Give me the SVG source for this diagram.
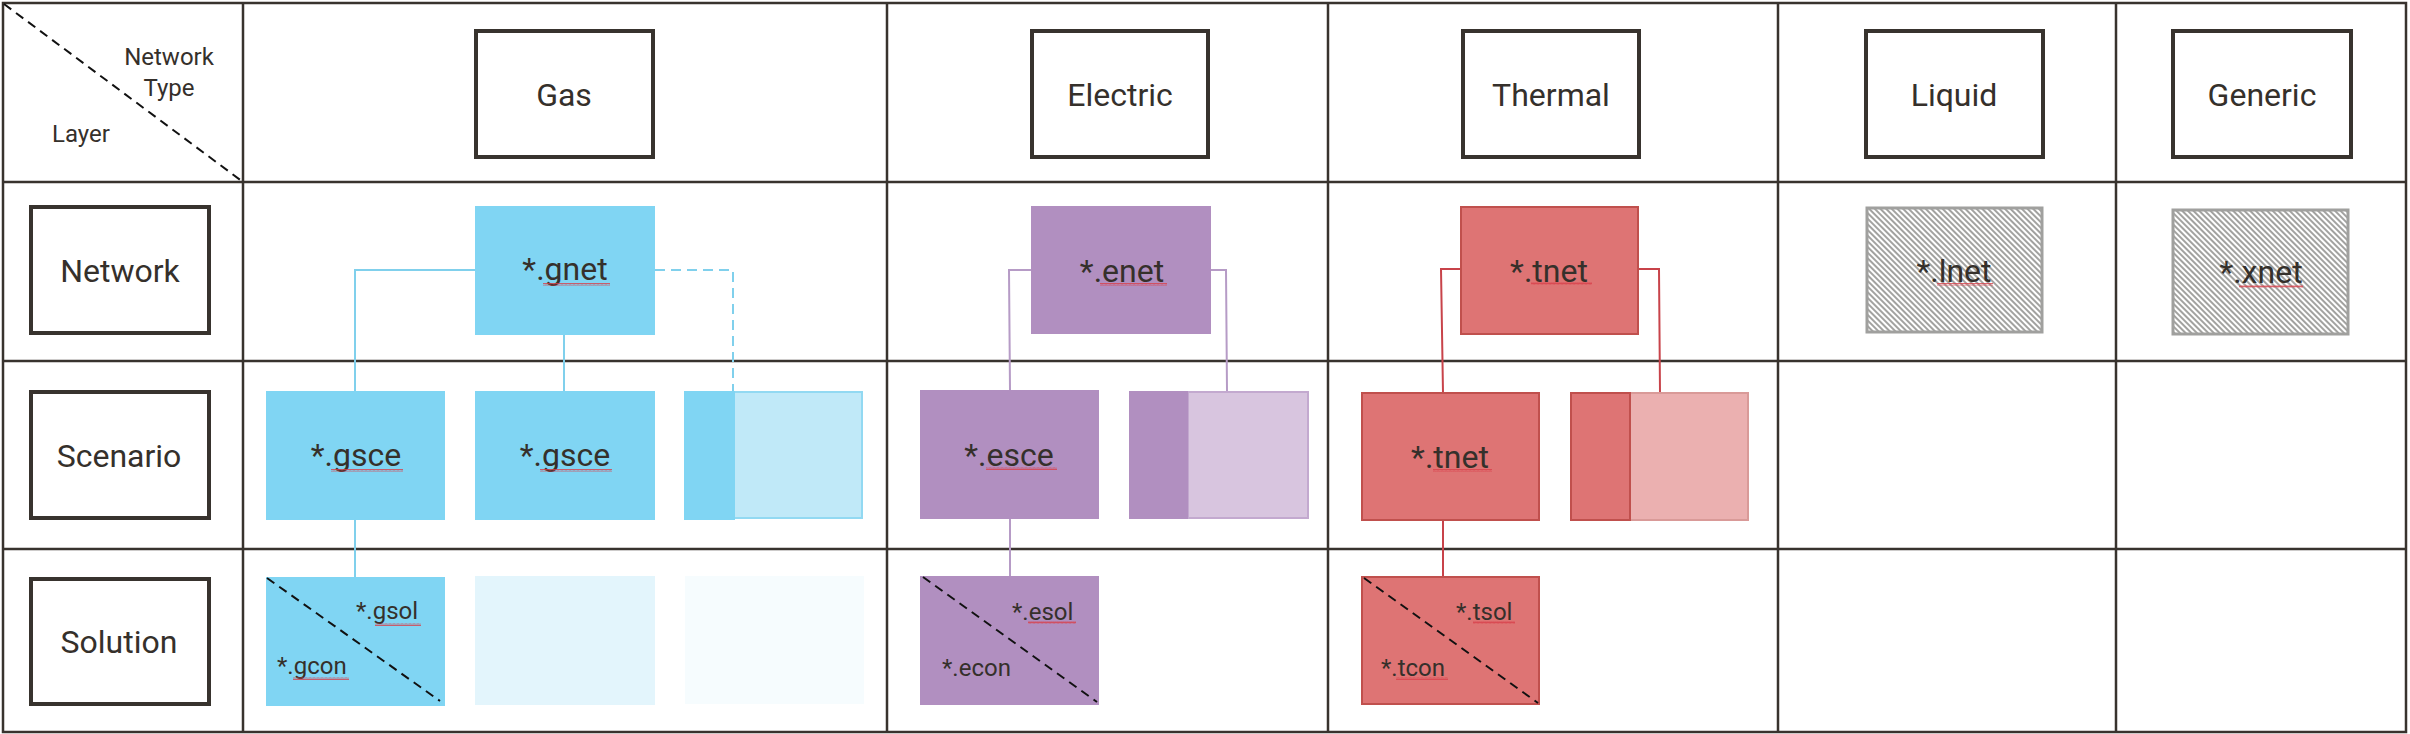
<svg xmlns="http://www.w3.org/2000/svg" width="2410" height="734" viewBox="0 0 2410 734">
<style>
text{font-family:Roboto,"Liberation Sans",sans-serif;fill:#35302b}
.t32{font-size:32px;text-anchor:middle}
.t24{font-size:24px}
.grid{stroke:#38332e;stroke-width:2.5;fill:none}
.hdr{fill:#fff;stroke:#38332e;stroke-width:4}
.g{fill:#80d5f3}
.gl{fill:#c0e9f8;stroke:#92d9f2;stroke-width:2}
.e{fill:#b18fc0}
.el{fill:#d8c5df;stroke:#c3a9cf;stroke-width:2}
.t{fill:#de7474;stroke:#c0504d;stroke-width:2}
.tl{fill:#ebb0b0;stroke:#d99a98;stroke-width:2}
.hat{fill:url(#hatch);stroke:#a0a09e;stroke-width:3}
.diag{stroke:#111;stroke-width:2;stroke-dasharray:9 6;fill:none}
.cg{stroke:#80d0ec;stroke-width:2;fill:none}
.ce{stroke:#b69bc6;stroke-width:2;fill:none}
.ct{stroke:#c8434a;stroke-width:2;fill:none}
.sq{fill:url(#squig)}
</style>
<defs>
<pattern id="hatch" width="4" height="4" patternUnits="userSpaceOnUse" patternTransform="rotate(45)">
<rect width="4" height="4" fill="#fff"/>
<line x1="0" y1="2" x2="4" y2="2" stroke="#8a8a88" stroke-width="1.6"/>
</pattern>
<pattern id="squig" width="4" height="3" patternUnits="userSpaceOnUse">
<path d="M0 2.5 L1 0.5 L2 2.5 L3 0.5 L4 2.5" stroke="#d8404a" stroke-width="0.8" fill="none"/>
</pattern>
</defs>
<rect width="2410" height="734" fill="#fff"/>

<g id="grid">
<rect class="grid" x="3" y="3" width="2403" height="729"/>
<line class="grid" x1="3" y1="182" x2="2406" y2="182"/>
<line class="grid" x1="3" y1="361" x2="2406" y2="361"/>
<line class="grid" x1="3" y1="549" x2="2406" y2="549"/>
<line class="grid" x1="243" y1="3" x2="243" y2="732"/>
<line class="grid" x1="887" y1="3" x2="887" y2="732"/>
<line class="grid" x1="1328" y1="3" x2="1328" y2="732"/>
<line class="grid" x1="1778" y1="3" x2="1778" y2="732"/>
<line class="grid" x1="2116" y1="3" x2="2116" y2="732"/>
</g>

<g id="corner">
<line class="diag" x1="4" y1="4" x2="243" y2="182"/>
<text class="t24" x="169" y="65" text-anchor="middle">Network</text>
<text class="t24" x="169" y="96" text-anchor="middle">Type</text>
<text class="t24" x="81" y="142" text-anchor="middle">Layer</text>
</g>

<g id="hdr-network"><rect class="hdr" x="31" y="207" width="178" height="126"/><text class="t32" x="120" y="282">Network</text></g>
<g id="hdr-scenario"><rect class="hdr" x="31" y="392" width="178" height="126"/><text class="t32" x="119" y="467">Scenario</text></g>
<g id="hdr-solution"><rect class="hdr" x="31" y="579" width="178" height="125"/><text class="t32" x="119" y="653">Solution</text></g>

<g id="hdr-gas"><rect class="hdr" x="476" y="31" width="177" height="126"/><text class="t32" x="564" y="106">Gas</text></g>
<g id="hdr-electric"><rect class="hdr" x="1032" y="31" width="176" height="126"/><text class="t32" x="1120" y="106">Electric</text></g>
<g id="hdr-thermal"><rect class="hdr" x="1463" y="31" width="176" height="126"/><text class="t32" x="1551" y="106">Thermal</text></g>
<g id="hdr-liquid"><rect class="hdr" x="1866" y="31" width="177" height="126"/><text class="t32" x="1954" y="106">Liquid</text></g>
<g id="hdr-generic"><rect class="hdr" x="2173" y="31" width="178" height="126"/><text class="t32" x="2262" y="106">Generic</text></g>

<g id="connectors">
<polyline class="cg" points="475,270 355,270 355,391"/>
<line class="cg" x1="564" y1="335" x2="564" y2="391"/>
<polyline class="cg" points="655,270 733,270 733,391" stroke-dasharray="10 6"/>
<line class="cg" x1="355" y1="520" x2="355" y2="577"/>
<polyline class="ce" points="1031,270 1009,270 1010,390"/>
<polyline class="ce" points="1211,270 1226,270 1227,391"/>
<line class="ce" x1="1010" y1="518" x2="1010" y2="576"/>
<polyline class="ct" points="1461,269 1441,269 1443,393"/>
<polyline class="ct" points="1638,269 1659,269 1660,393"/>
<line class="ct" x1="1443" y1="520" x2="1443" y2="577"/>
</g>

<g id="gnet"><rect class="g" x="475" y="206" width="180" height="129"/><text class="t32" x="565" y="280">*.gnet</text><rect class="sq" x="543" y="283" width="67" height="3"/></g>
<g id="gsce1"><rect class="g" x="266" y="391" width="179" height="129"/><text class="t32" x="356" y="466">*.gsce</text><rect class="sq" x="331" y="469" width="72" height="3"/></g>
<g id="gsce2"><rect class="g" x="475" y="391" width="180" height="129"/><text class="t32" x="565" y="466">*.gsce</text><rect class="sq" x="540" y="469" width="72" height="3"/></g>
<g id="gsce3"><rect class="gl" x="685" y="392" width="177" height="126"/><rect class="g" x="684" y="391" width="51" height="129"/></g>
<g id="gsol"><rect class="g" x="266" y="577" width="179" height="129"/><line class="diag" x1="267" y1="578" x2="440" y2="701"/>
<text class="t24" x="356" y="619">*.gsol</text><rect class="sq" x="375" y="623" width="46" height="3"/>
<text class="t24" x="277" y="674">*.gcon</text><rect class="sq" x="293" y="677" width="56" height="3"/></g>
<g id="gsol2"><rect x="475" y="576" width="180" height="129" fill="#e3f5fc"/></g>
<g id="gsol3"><rect x="685" y="576" width="179" height="128" fill="#f6fcfe"/></g>

<g id="enet"><rect class="e" x="1031" y="206" width="180" height="128"/><text class="t32" x="1122" y="282">*.enet</text><rect class="sq" x="1100" y="283" width="67" height="3"/></g>
<g id="esce"><rect class="e" x="920" y="390" width="179" height="129"/><text class="t32" x="1009" y="466">*.esce</text><rect class="sq" x="986" y="467" width="71" height="3"/></g>
<g id="esce2"><rect class="el" x="1188" y="392" width="120" height="126"/><rect class="e" x="1129" y="391" width="59" height="128"/></g>
<g id="esol"><rect class="e" x="920" y="576" width="179" height="129"/><line class="diag" x1="923" y1="577" x2="1097" y2="702"/>
<text class="t24" x="1012" y="620">*.esol</text><rect class="sq" x="1028" y="621" width="48" height="3"/>
<text class="t24" x="942" y="676">*.econ</text></g>

<g id="tnet"><rect class="t" x="1461" y="207" width="177" height="127"/><text class="t32" x="1549" y="282">*.tnet</text><rect class="sq" x="1531" y="282" width="61" height="3"/></g>
<g id="tsce"><rect class="t" x="1362" y="393" width="177" height="127"/><text class="t32" x="1450" y="468">*.tnet</text><rect class="sq" x="1433" y="469" width="59" height="3"/></g>
<g id="tsce2"><rect class="tl" x="1630" y="393" width="118" height="127"/><rect class="t" x="1571" y="393" width="59" height="127"/></g>
<g id="tsol"><rect class="t" x="1362" y="577" width="177" height="127"/><line class="diag" x1="1364" y1="578" x2="1538" y2="703"/>
<text class="t24" x="1456" y="620">*.tsol</text><rect class="sq" x="1473" y="621" width="42" height="3"/>
<text class="t24" x="1381" y="676">*.tcon</text><rect class="sq" x="1396" y="677" width="52" height="3"/></g>

<g id="lnet"><rect class="hat" x="1867" y="208" width="175" height="124"/><text class="t32" x="1954" y="282">*.lnet</text><rect class="sq" x="1937" y="283" width="56" height="3"/></g>
<g id="xnet"><rect class="hat" x="2173" y="210" width="175" height="124"/><text class="t32" x="2261" y="283">*.xnet</text><rect class="sq" x="2239" y="285" width="64" height="3"/></g>
</svg>
